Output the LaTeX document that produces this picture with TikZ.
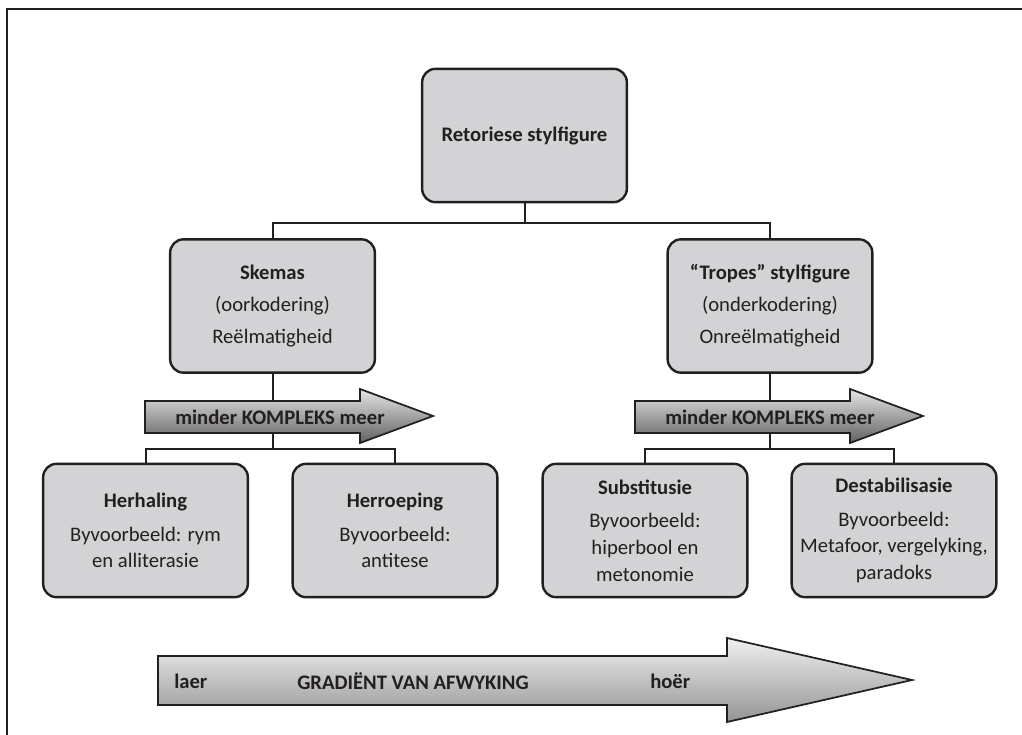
\documentclass[tikz,border=0pt]{standalone}
\usepackage{fontspec}
\setmainfont{Carlito}
\definecolor{ink}{RGB}{35,31,32}
\definecolor{boxfill}{RGB}{211,211,213}
\begin{document}
\begin{tikzpicture}[x=0.75pt,y=-0.75pt,
  box/.style={draw=ink, line width=1.8pt, rounded corners=10pt, fill=boxfill,
    minimum width=153.5pt, minimum height=100pt, align=center, text=ink, inner sep=2pt,
    font=\fontsize{15.5}{24}\selectfont},
  lowbox/.style={box, font=\fontsize{15.5}{20}\selectfont},
  link/.style={draw=ink, line width=1.5pt},
  smallarrow/.style={draw=ink, line width=1.3pt, top color=black!10, middle color=black!6, bottom color=black!62},
  bigarrow/.style={draw=ink, line width=1.3pt, top color=black!6, middle color=black!12, bottom color=black!42},
  arrowtext/.style={text=ink, font=\bfseries\fontsize{15.5}{18}\selectfont, inner sep=0pt}
]
\useasboundingbox (0,0) rectangle (1022,735);
\fill[white] (0,0) rectangle (1022,735);
% frame
\draw[ink, line width=2.2pt] (7,735) -- (7,9) -- (1022,9);

% boxes
\node[box] (top) at (524.5,135.5) {\textbf{Retoriese stylfigure}};
\node[box] (sk) at (272.5,306) {\textbf{Skemas}\\(oorkodering)\\Reëlmatigheid};
\node[box] (tr) at (770,306) {\textbf{“Tropes” stylfigure}\\(onderkodering)\\Onreëlmatigheid};
\node[lowbox] (he) at (145.5,530.5) {\textbf{Herhaling}\\[5pt]Byvoorbeeld: rym\\en alliterasie};
\node[lowbox] (hr) at (395,530.5) {\textbf{Herroeping}\\[5pt]Byvoorbeeld:\\antitese};
\node[lowbox] (su) at (645,530.5) {\textbf{Substitusie}\\[5pt]Byvoorbeeld:\\hiperbool en\\metonomie};
\node[lowbox] (de) at (894,530.5) {\textbf{Destabilisasie}\\[5pt]Byvoorbeeld:\\Metafoor, vergelyking,\\paradoks};

% connectors
\draw[link] (top.south) -- ++(0,20) -| (sk.north);
\draw[link] (top.south) -- ++(0,20) -| (tr.north);
\draw[link] (sk.south) -- ++(0,75) -| (he.north);
\draw[link] (sk.south) -- ++(0,75) -| (hr.north);
\draw[link] (tr.south) -- ++(0,75) -| (su.north);
\draw[link] (tr.south) -- ++(0,75) -| (de.north);

% small arrows
\draw[smallarrow] (145,401) -- (360,401) -- (360,389) -- (433,416) -- (360,443) -- (360,433) -- (145,433) -- cycle;
\node[arrowtext] (la) at (280,417) {minder KOMPLEKS meer};
\draw[smallarrow] (635,401) -- (850,401) -- (850,389) -- (923,416) -- (850,443) -- (850,433) -- (635,433) -- cycle;
\node[arrowtext] (ra) at (770,417) {minder KOMPLEKS meer};

% big arrow
\draw[bigarrow] (158,656) -- (727,656) -- (727,638) -- (912,680) -- (727,722) -- (727,705) -- (158,705) -- cycle;
\node[arrowtext, anchor=west] (lo) at (174,681) {laer};
\node[arrowtext] (gr) at (413,681) {GRADIËNT VAN AFWYKING};
\node[arrowtext, anchor=west] (hi) at (650,681) {hoër};
\end{tikzpicture}
\end{document}
